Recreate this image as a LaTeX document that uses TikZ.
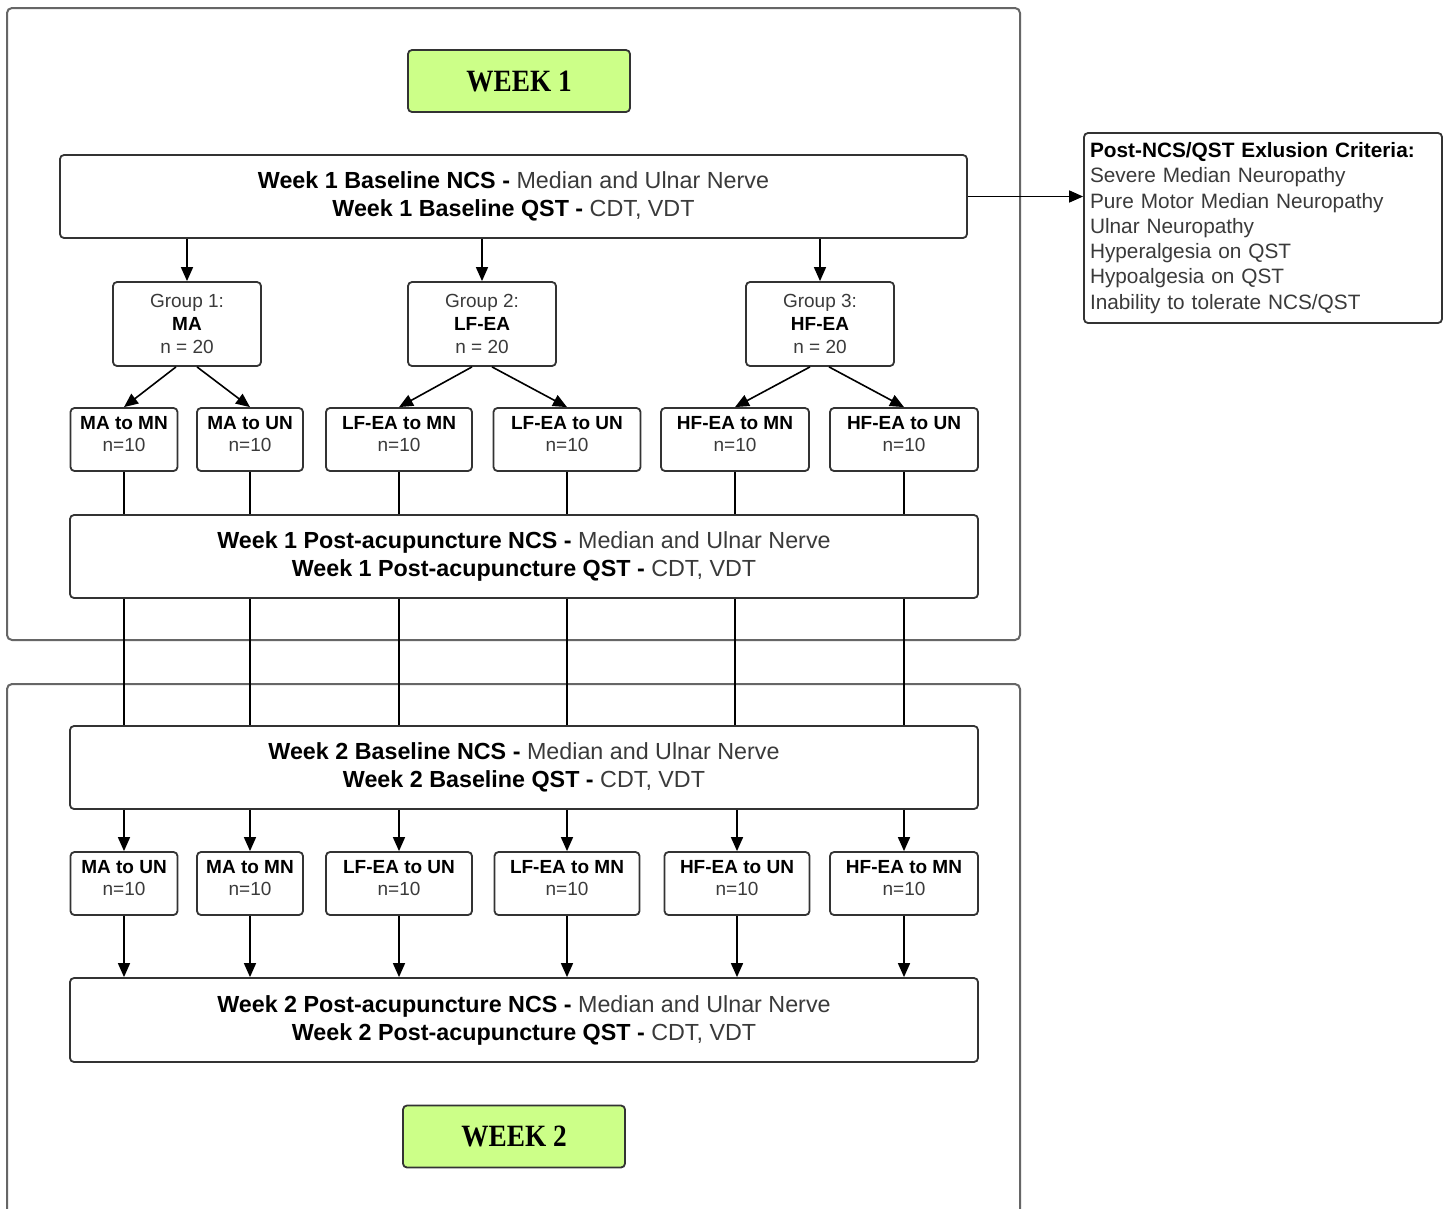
\documentclass[tikz,border=0pt]{standalone}
\usepackage{fontspec}
\setmainfont{Liberation Sans}
\newfontfamily\weekfont[FakeStretch=0.88]{Liberation Serif}
\usetikzlibrary{arrows.meta}
\definecolor{wkgreen}{HTML}{CCFF88}
\definecolor{txtgrey}{HTML}{3A3A3A}
\definecolor{boxline}{HTML}{333333}
\definecolor{frameline}{HTML}{666666}
\begin{document}
\begin{tikzpicture}[x=1pt,y=-1pt,
  frame/.style={draw=frameline, line width=2pt, rounded corners=5pt},
  box/.style={draw=boxline, line width=1.8pt, rounded corners=4pt, inner sep=0pt, align=center, text=txtgrey, fill=white},
  mainbox/.style={box, minimum width=908pt, minimum height=83pt, font=\fontsize{23.3}{28}\selectfont},
  groupbox/.style={box, minimum width=148pt, minimum height=84pt, font=\fontsize{19}{23}\selectfont},
  subbox/.style={box, minimum height=63pt, text depth=12pt, font=\fontsize{19}{22}\selectfont},
  weekbox/.style={box, fill=wkgreen, minimum width=222pt, minimum height=62pt, text=black, font=\weekfont\bfseries\fontsize{31}{31}\selectfont},
  exclbox/.style={box, align=left, minimum height=190pt, text width=346pt, inner xsep=6pt, inner ysep=0pt, font=\fontsize{20.8}{25.3}\selectfont},
  conn/.style={draw=black, line width=1.6pt},
  arr/.style={conn, -{Triangle[length=14pt,width=12pt]}},
]
\useasboundingbox (0,0) rectangle (1450,1208);
\fill[white] (0,0) rectangle (1450,1208);

% frames
\draw[frame] (7,8) rectangle (1020,640);
\draw[frame] (7,684) rectangle (1020,1220);

% week labels
\node[weekbox] (wk1) at (519,81) {WEEK 1};
\node[weekbox] (wk2) at (514,1136.5) {WEEK 2};

% main boxes
\node[mainbox, minimum width=907pt] (base1) at (513.5,196.5)
  {{\bfseries\color{black}Week 1 Baseline NCS -} Median and Ulnar Nerve\\
   {\bfseries\color{black}Week 1 Baseline QST -} CDT, VDT};
\node[mainbox] (post1) at (524,556.5)
  {{\bfseries\color{black}Week 1 Post-acupuncture NCS -} Median and Ulnar Nerve\\
   {\bfseries\color{black}Week 1 Post-acupuncture QST -} CDT, VDT};
\node[mainbox] (base2) at (524,767.5)
  {{\bfseries\color{black}Week 2 Baseline NCS -} Median and Ulnar Nerve\\
   {\bfseries\color{black}Week 2 Baseline QST -} CDT, VDT};
\node[mainbox, minimum height=84pt] (post2) at (524,1020)
  {{\bfseries\color{black}Week 2 Post-acupuncture NCS -} Median and Ulnar Nerve\\
   {\bfseries\color{black}Week 2 Post-acupuncture QST -} CDT, VDT};

% exclusion box
\node[exclbox] (excl) at (1263,228)
  {{\bfseries\color{black}Post-NCS/QST Exlusion Criteria:}\\
   Severe Median Neuropathy\\
   Pure Motor Median Neuropathy\\
   Ulnar Neuropathy\\
   Hyperalgesia on QST\\
   Hypoalgesia on QST\\
   Inability to tolerate NCS/QST};

% groups
\node[groupbox] (g1) at (187,324) {Group 1:\\{\bfseries\color{black}MA}\\n = 20};
\node[groupbox] (g2) at (482,324) {Group 2:\\{\bfseries\color{black}LF-EA}\\n = 20};
\node[groupbox] (g3) at (820,324) {Group 3:\\{\bfseries\color{black}HF-EA}\\n = 20};

% week 1 sub-groups
\node[subbox, minimum width=107pt] (s1) at (124,439.5) {{\bfseries\color{black}MA to MN}\\n=10};
\node[subbox, minimum width=106pt] (s2) at (250,439.5) {{\bfseries\color{black}MA to UN}\\n=10};
\node[subbox, minimum width=146pt] (s3) at (399,439.5) {{\bfseries\color{black}LF-EA to MN}\\n=10};
\node[subbox, minimum width=147pt] (s4) at (567,439.5) {{\bfseries\color{black}LF-EA to UN}\\n=10};
\node[subbox, minimum width=148pt] (s5) at (735,439.5) {{\bfseries\color{black}HF-EA to MN}\\n=10};
\node[subbox, minimum width=148pt] (s6) at (904,439.5) {{\bfseries\color{black}HF-EA to UN}\\n=10};

% week 2 sub-groups
\node[subbox, minimum width=107pt] (t1) at (124,883.5) {{\bfseries\color{black}MA to UN}\\n=10};
\node[subbox, minimum width=106pt] (t2) at (250,883.5) {{\bfseries\color{black}MA to MN}\\n=10};
\node[subbox, minimum width=146pt] (t3) at (399,883.5) {{\bfseries\color{black}LF-EA to UN}\\n=10};
\node[subbox, minimum width=145pt] (t4) at (567,883.5) {{\bfseries\color{black}LF-EA to MN}\\n=10};
\node[subbox, minimum width=145pt] (t5) at (737,883.5) {{\bfseries\color{black}HF-EA to UN}\\n=10};
\node[subbox, minimum width=148pt] (t6) at (904,883.5) {{\bfseries\color{black}HF-EA to MN}\\n=10};

% connectors
\draw[arr] (base1.east) -- (base1.east -| excl.west);
\foreach \g in {g1,g2,g3}
  \draw[arr] (base1.south -| \g.north) -- (\g.north);
\draw[arr] ([xshift=-11pt]g1.south) -- (s1.north);
\draw[arr] ([xshift=10pt]g1.south) -- (s2.north);
\draw[arr] ([xshift=-10pt]g2.south) -- (s3.north);
\draw[arr] ([xshift=10pt]g2.south) -- (s4.north);
\draw[arr] ([xshift=-10pt]g3.south) -- (s5.north);
\draw[arr] ([xshift=9pt]g3.south) -- (s6.north);
\foreach \s in {s1,s2,s3,s4,s5,s6} {
  \draw[conn] (\s.south) -- (post1.north -| \s.south);
  \draw[conn] (post1.south -| \s.south) -- (base2.north -| \s.south);
}
\foreach \t in {t1,t2,t3,t4,t5,t6} {
  \draw[arr] (base2.south -| \t.north) -- (\t.north);
  \draw[arr] (\t.south) -- (post2.north -| \t.south);
}
\end{tikzpicture}
\end{document}
